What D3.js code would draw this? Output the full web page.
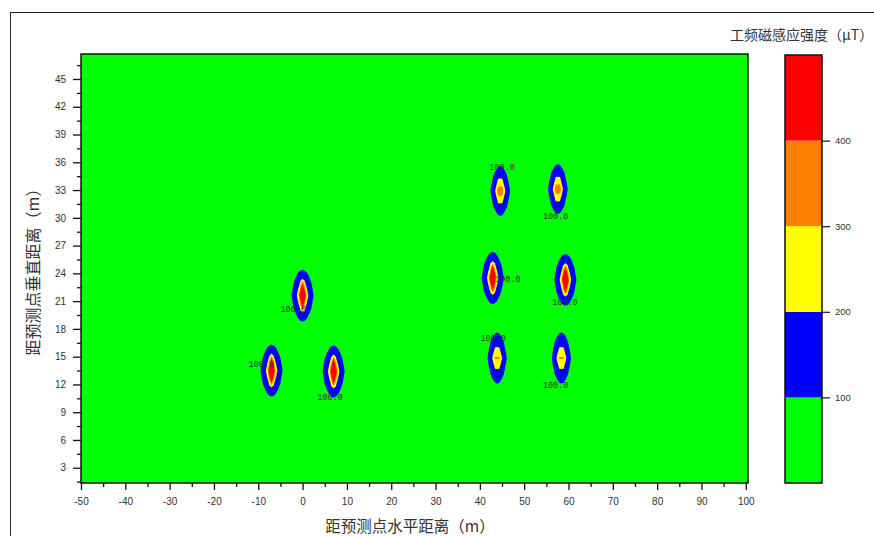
<!DOCTYPE html>
<html>
<head>
<meta charset="utf-8">
<script src="https://cdn.jsdelivr.net/npm/d3@7"></script>
<style>
  body { margin: 0; background: #ffffff; }
  svg { display: block; }
</style>
</head>
<body>
<svg id="chart" width="874" height="536"></svg>
<script>
// Field sources: position (m), peak value at the source node, 1/r strength (μT·m)
// and vertical stretch of the falloff
const sourceX       = [0,    -7,   7,    44.6, 57.6, 42.9, 59.3, 43.9, 58.4];
const sourceY       = [21.6, 13.5, 13.4, 32.9, 33.1, 23.5, 23.3, 14.85, 14.85];
const sourcePeak    = [1000, 1000, 1000, 360,  360,  1000, 1000, 310,  310];
const sourceScale   = [250,  250,  250,  220,  220,  250,  250,  215,  215];
const sourceStretch = [1.0,  1.0,  1.0,  1.1,  1.1,  1.0,  1.0,  1.15, 1.15];

// Contour level boundaries and fill colours
const levelBounds = [100, 200, 300, 400];
const levelColors = ["#00ff00", "#0000ff", "#ffff00", "#ff8000", "#ff0000"];
const colorbarMax = 500;

// Contour labels
const labelX    = [-2.1, -9.3, 6.2,  45.0, 57.1, 46.3, 59.2, 43.0, 57.1];
const labelY    = [20.15, 14.2, 10.64, 35.5, 30.2, 23.4, 20.9, 17.0, 11.9];
const labelText = ["100.0", "100.0", "100.0", "100.0", "100.0", "100.0", "100.0", "100.0", "100.0"];

// Axis ticks
const xTickValues = [-50, -40, -30, -20, -10, 0, 10, 20, 30, 40, 50, 60, 70, 80, 90, 100];
const xMinorTicks = [-45, -35, -25, -15, -5, 5, 15, 25, 35, 45, 55, 65, 75, 85, 95];
const yTickValues = [3, 6, 9, 12, 15, 18, 21, 24, 27, 30, 33, 36, 39, 42, 45];
const yMinorTicks = [1.5, 4.5, 7.5, 10.5, 13.5, 16.5, 19.5, 22.5, 25.5, 28.5, 31.5, 34.5, 37.5, 40.5, 43.5, 46.5];

const xTitle = "距预测点水平距离（m）";
const yTitle = "距预测点垂直距离（m）";
const cTitle = "工频磁感应强度（μT）";

const svg = d3.select("#chart");

// outer frame
svg.append("rect")
  .attr("x", 10.5).attr("y", 12.5).attr("width", 1000).attr("height", 1000)
  .attr("fill", "none").attr("stroke", "#222").attr("stroke-width", 1);

const plot = { left: 81, right: 748, top: 54, bottom: 483 };
const x = d3.scaleLinear().domain([-50, 100.5]).range([plot.left, plot.right]);
const y = d3.scaleLinear().domain([1.35, 47.7]).range([plot.bottom, plot.top]);

// background: lowest band
svg.append("rect")
  .attr("x", plot.left).attr("y", plot.top)
  .attr("width", plot.right - plot.left).attr("height", plot.bottom - plot.top)
  .attr("fill", levelColors[0]);

// local sampling grid around each source: 0.5 m in x, 2 m in y
const stepX = 0.5, stepY = 2;
const nx = 17, ny = 7;
const cx = (nx - 1) / 2, cy = (ny - 1) / 2;
const contourGen = d3.contours().size([nx, ny]).thresholds(levelBounds);

const fieldLayer = svg.append("g");
sourceX.forEach((sx, s) => {
  const sy = sourceY[s];
  const values = new Array(nx * ny);
  for (let j = 0; j < ny; j++) {
    for (let i = 0; i < nx; i++) {
      const r = Math.hypot((i - cx) * stepX, (j - cy) * stepY / sourceStretch[s]);
      values[j * nx + i] = r === 0 ? sourcePeak[s] : Math.min(sourcePeak[s], sourceScale[s] / r);
    }
  }
  const proj = d3.geoTransform({
    point(gx, gy) {
      this.stream.point(
        x(sx + (gx - 0.5 - cx) * stepX),
        y(sy + (gy - 0.5 - cy) * stepY)
      );
    }
  });
  const path = d3.geoPath(proj);
  fieldLayer.selectAll(null)
    .data(contourGen(values))
    .join("path")
    .attr("d", path)
    .attr("fill", (d, k) => levelColors[k + 1])
    .attr("stroke", "none");
});

// contour labels
svg.append("g").selectAll("text")
  .data(labelText)
  .join("text")
  .attr("x", (d, i) => x(labelX[i]))
  .attr("y", (d, i) => y(labelY[i]))
  .attr("dy", "0.35em")
  .attr("text-anchor", "middle")
  .attr("font-family", "Liberation Mono, DejaVu Sans Mono, monospace")
  .attr("font-size", 8.5)
  .attr("fill", "#333")
  .text(d => d);

// plot frame
svg.append("rect")
  .attr("x", plot.left).attr("y", plot.top)
  .attr("width", plot.right - plot.left).attr("height", plot.bottom - plot.top)
  .attr("fill", "none").attr("stroke", "#111").attr("stroke-width", 1.5);

const tickFont = "Liberation Sans, Arial, sans-serif";

function styleAxis(g) {
  g.select(".domain").remove();
  g.selectAll(".tick line").attr("stroke", "#111").attr("stroke-width", 1.3);
  g.selectAll(".tick text").attr("fill", "#333").attr("font-family", tickFont).attr("font-size", 10);
}

// x axis
svg.append("g").attr("transform", `translate(0,${plot.bottom})`)
  .call(d3.axisBottom(x).tickValues(xTickValues).tickSize(7).tickPadding(8).tickFormat(d => String(d)))
  .call(styleAxis);
svg.append("g").attr("transform", `translate(0,${plot.bottom})`)
  .call(d3.axisBottom(x).tickValues(xMinorTicks).tickSize(4).tickFormat(""))
  .call(styleAxis);

// y axis
svg.append("g").attr("transform", `translate(${plot.left},0)`)
  .call(d3.axisLeft(y).tickValues(yTickValues).tickSize(8).tickPadding(7).tickFormat(d => String(d)))
  .call(styleAxis);
svg.append("g").attr("transform", `translate(${plot.left},0)`)
  .call(d3.axisLeft(y).tickValues(yMinorTicks).tickSize(4).tickFormat(""))
  .call(styleAxis);

// axis titles
const titleFont = "Noto Sans CJK SC, sans-serif";
svg.append("text")
  .attr("x", 410).attr("y", 527)
  .attr("dy", "0.35em")
  .attr("text-anchor", "middle")
  .attr("font-family", titleFont).attr("font-size", 15.5).attr("fill", "#333")
  .text(xTitle);
svg.append("text")
  .attr("transform", `translate(33,268) rotate(-90)`)
  .attr("dy", "0.35em")
  .attr("text-anchor", "middle")
  .attr("font-family", titleFont).attr("font-size", 16).attr("fill", "#333")
  .text(yTitle);

// colour bar
const cb = { left: 785, right: 822 };
const c = d3.scaleLinear().domain([0, colorbarMax]).range([plot.bottom, 55]);
const bandEdges = [0].concat(levelBounds, [colorbarMax]);
svg.append("g").selectAll("rect")
  .data(levelColors)
  .join("rect")
  .attr("x", cb.left)
  .attr("y", (d, i) => c(bandEdges[i + 1]))
  .attr("width", cb.right - cb.left)
  .attr("height", (d, i) => c(bandEdges[i]) - c(bandEdges[i + 1]))
  .attr("fill", d => d);
svg.append("rect")
  .attr("x", cb.left).attr("y", c(colorbarMax))
  .attr("width", cb.right - cb.left).attr("height", c(0) - c(colorbarMax))
  .attr("fill", "none").attr("stroke", "#111").attr("stroke-width", 1.5);
svg.append("g").attr("transform", `translate(${cb.right},0)`)
  .call(d3.axisRight(c).tickValues(levelBounds).tickSize(8).tickPadding(5).tickFormat(d => String(d)))
  .call(g => {
    g.select(".domain").remove();
    g.selectAll(".tick line").attr("stroke", "#111").attr("stroke-width", 1.2);
    g.selectAll(".tick text").attr("fill", "#333").attr("font-family", tickFont).attr("font-size", 9.5);
  });

svg.append("text")
  .attr("x", 730).attr("y", 35)
  .attr("dy", "0.35em")
  .attr("font-family", titleFont).attr("font-size", 14).attr("fill", "#333")
  .text(cTitle);
</script>
</body>
</html>
